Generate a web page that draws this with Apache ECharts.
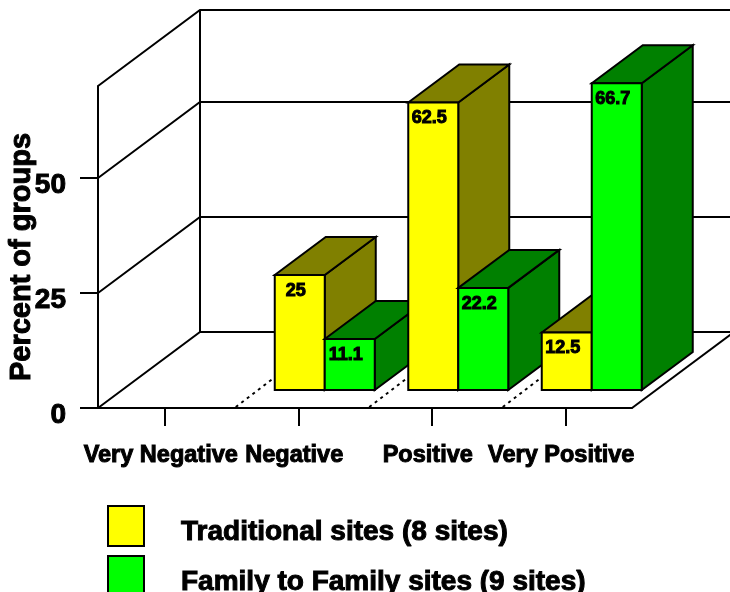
<!DOCTYPE html>
<html>
<head>
<meta charset="utf-8">
<style>html,body{margin:0;padding:0;background:#fff}#c{width:730px;height:592px}</style>
<script src="https://cdn.jsdelivr.net/npm/echarts@6/dist/echarts.min.js"></script>
</head>
<body>
<div id="c"></div>
<script>
const categories = ['Very Negative', 'Negative', 'Positive', 'Very Positive'];
const traditional = [null, 25, 62.5, 12.5];
const familyToFamily = [null, 11.1, 22.2, 66.7];
const yTickValues = [0, 25, 50];
const wallLevels = [0, 25, 50, 70];
const yMax = 70;
const nameTraditional = 'Traditional sites (8 sites)';
const nameFamily = 'Family to Family sites (9 sites)';

const DEPTH_X = 102, DEPTH_Y = 76;
const BAR_W = 50;
const BAR_SHIFT_X = 26.5, BAR_SHIFT_Y = 18;
const FONT = '"Liberation Sans", Arial, sans-serif';

function poly(points, fill, z2) {
  return { type: 'polygon', z2: z2, shape: { points: points },
    style: { fill: fill, stroke: '#000', lineWidth: 2, lineJoin: 'miter' } };
}
function barRenderer(sideIndex, front, top, side) {
  return function (params, api) {
    const i = api.value(0), v = api.value(1);
    if (v == null || isNaN(v)) return null;
    const z = 10 + i * 10 + sideIndex * 3;
    const base = api.coord([i, 0]), head = api.coord([i, v]);
    const cx = base[0] + BAR_SHIFT_X;
    const x0 = cx + (sideIndex === 0 ? -BAR_W : 0), x1 = x0 + BAR_W;
    const yb = base[1] - BAR_SHIFT_Y, yt = head[1] - BAR_SHIFT_Y;
    const dx = DEPTH_X / 2, dy = DEPTH_Y / 2;
    const children = [
      poly([[x1, yb], [x1 + dx, yb - dy], [x1 + dx, yt - dy], [x1, yt]], side, z),
      poly([[x0, yt], [x0 + dx, yt - dy], [x1 + dx, yt - dy], [x1, yt]], top, z + 1),
      poly([[x0, yb], [x1, yb], [x1, yt], [x0, yt]], front, z + 2),
      { type: 'text', z2: z + 3, style: { x: (x0 + x1) / 2 - 4, y: yt + 16, text: String(v),
          font: 'bold 18px ' + FONT, fill: '#000', stroke: '#000', lineWidth: 1,
          align: 'center', verticalAlign: 'middle' } }
    ];
    if (sideIndex === 0) {
      children.unshift({ type: 'line', z2: 5,
        shape: { x1: x0 - 39, y1: base[1] - 1, x2: x0 - 1, y2: base[1] - 30 },
        style: { stroke: '#000', lineWidth: 2, lineDash: [3, 4] } });
    }
    return { type: 'group', children: children };
  };
}
function wallRenderer(params, api) {
  const v = api.value(1);
  const band = api.size([1, 0])[0];
  const first = api.coord([0, v]), zero = api.coord([0, 0]);
  const left = first[0] - band / 2;
  const width = band * categories.length;
  const children = [{ type: 'polyline', z2: 1,
    shape: { points: [[left, first[1]], [left + DEPTH_X, first[1] - DEPTH_Y], [left + DEPTH_X + width, first[1] - DEPTH_Y]] },
    style: { fill: null, stroke: '#000', lineWidth: 2 } }];
  if (v === 0) {
    const top = api.coord([0, yMax]);
    children.push({ type: 'line', z2: 1,
      shape: { x1: left + DEPTH_X, y1: top[1] - DEPTH_Y, x2: left + DEPTH_X, y2: zero[1] - DEPTH_Y },
      style: { stroke: '#000', lineWidth: 2 } });
    children.push({ type: 'line', z2: 1,
      shape: { x1: left + width, y1: zero[1], x2: left + width + DEPTH_X, y2: zero[1] - DEPTH_Y },
      style: { stroke: '#000', lineWidth: 2 } });
  }
  return { type: 'group', children: children };
}

const heavy = { fontFamily: FONT, fontWeight: 'bold', color: '#000', textBorderColor: '#000', textBorderWidth: 1 };

const chart = echarts.init(document.getElementById('c'), null, { renderer: 'canvas' });
chart.setOption({
  animation: false,
  backgroundColor: '#fff',
  grid: { left: 98, right: 98, top: 86, bottom: 184, containLabel: false, outerBoundsMode: 'none' },
  legend: {
    orient: 'vertical', left: 107, top: 505, height: 120, width: 620, padding: 0,
    icon: 'rect', itemWidth: 36, itemHeight: 40, itemGap: 8,
    selectedMode: false,
    itemStyle: { borderColor: '#000', borderWidth: 2 },
    formatter: name => '{a|' + name + '}',
    textStyle: Object.assign({ fontSize: 28 }, heavy, {
      rich: { a: Object.assign({ fontSize: 28, verticalAlign: 'top', padding: [12, 0, 0, 32] }, heavy) }
    }),
    data: [nameTraditional, nameFamily]
  },
  xAxis: {
    type: 'category', data: categories,
    axisLine: { show: true, lineStyle: { color: '#000', width: 2 } },
    axisTick: { show: true, alignWithLabel: true, length: 18, lineStyle: { color: '#000', width: 2 } },
    axisLabel: Object.assign({ interval: 0, margin: 36, fontSize: 23.5, padding: [0, 8, 0, 0] }, heavy),
    splitLine: { show: false }
  },
  yAxis: {
    type: 'value', min: 0, max: yMax,
    name: 'Percent of groups', nameLocation: 'middle', nameGap: 62, nameRotate: 90, nameMoveOverlap: false,
    nameTextStyle: Object.assign({ fontSize: 29, padding: [0, 20, 0, 0] }, heavy),
    axisLine: { show: true, lineStyle: { color: '#000', width: 2 } },
    axisTick: { show: true, length: 18, customValues: yTickValues, lineStyle: { color: '#000', width: 2 } },
    axisLabel: Object.assign({ margin: 32, customValues: yTickValues, fontSize: 28,
      formatter: '{a|{value}}',
      rich: { a: Object.assign({ fontSize: 28, verticalAlign: 'top', padding: [14, 0, 0, 0] }, heavy) } }, heavy),
    splitLine: { show: false }
  },
  series: [
    { type: 'custom', name: 'walls', silent: true, clip: false,
      encode: { x: 0, y: 1 }, renderItem: wallRenderer,
      data: wallLevels.map(v => [0, v]) },
    { type: 'custom', name: nameTraditional, clip: false,
      itemStyle: { color: '#ffff00' }, encode: { x: 0, y: 1 },
      renderItem: barRenderer(0, '#ffff00', '#808000', '#808000'),
      data: traditional.map((v, i) => [i, v]) },
    { type: 'custom', name: nameFamily, clip: false,
      itemStyle: { color: '#00ff00' }, encode: { x: 0, y: 1 },
      renderItem: barRenderer(1, '#00ff00', '#008000', '#008000'),
      data: familyToFamily.map((v, i) => [i, v]) }
  ]
});
</script>
</body>
</html>
